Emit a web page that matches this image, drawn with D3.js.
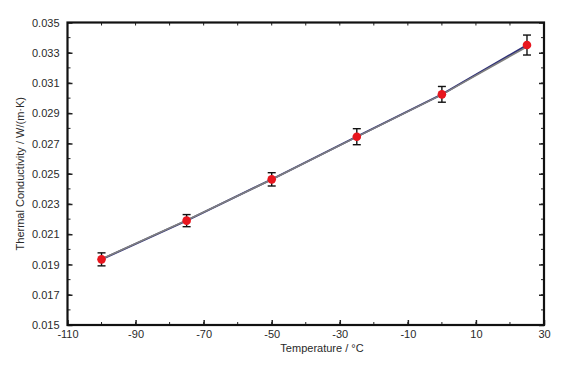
<!DOCTYPE html>
<html><head><meta charset="utf-8">
<script src="https://cdn.jsdelivr.net/npm/d3@7"></script>
<style>body{margin:0;background:#fff}svg{display:block}text{font-family:"Liberation Sans",Arial,sans-serif}</style>
</head><body><svg id="c" width="565" height="365"></svg>
<script>
const temperatures = [-100, -75, -50, -25, 0, 25];
const seriesA = [0.01934, 0.02190, 0.02463, 0.02745, 0.03025, 0.03351];
const seriesB = [0.01936, 0.02192, 0.02462, 0.02744, 0.03023, 0.03340];
const errors = [0.00043, 0.00040, 0.00044, 0.00053, 0.00052, 0.00066];
const xTicks = [-110, -90, -70, -50, -30, -10, 10, 30];
const yTicks = [0.015, 0.017, 0.019, 0.021, 0.023, 0.025, 0.027, 0.029, 0.031, 0.033, 0.035];

const svg = d3.select("#c");
const L = 67.5, R = 544, T = 22.5, B = 325;
const x = d3.scaleLinear().domain([-110, 30]).range([L, R]);
const y = d3.scaleLinear().domain([0.015, 0.035]).range([B, T]);

const xMinor = d3.range(-110, 31, 10);
const yMinor = d3.range(15, 36, 1).map(d => d / 1000);

const g = svg.append("g");
g.selectAll(".xm").data(xMinor).join("line")
  .attr("x1", d => x(d)).attr("x2", d => x(d)).attr("y1", B).attr("y2", B - 3).attr("stroke", "#222");
g.selectAll(".xmt").data(xMinor).join("line")
  .attr("x1", d => x(d)).attr("x2", d => x(d)).attr("y1", T).attr("y2", T + 3).attr("stroke", "#222");
g.selectAll(".ym").data(yMinor).join("line")
  .attr("x1", L).attr("x2", L + 3).attr("y1", d => y(d)).attr("y2", d => y(d)).attr("stroke", "#222");
g.selectAll(".ymr").data(yMinor).join("line")
  .attr("x1", R).attr("x2", R - 3).attr("y1", d => y(d)).attr("y2", d => y(d)).attr("stroke", "#222");

const xAxis = d3.axisBottom(x).tickValues(xTicks).tickSize(-5).tickPadding(5).tickFormat(d => String(d));
const gx = svg.append("g").attr("transform", `translate(0,${B})`).call(xAxis);
gx.select(".domain").remove();
gx.selectAll("line").attr("stroke", "#222").attr("stroke-width", 1.5);
gx.selectAll("text").attr("font-size", 11).attr("fill", "#2a2a2a");

const yAxis = d3.axisLeft(y).tickValues(yTicks).tickSize(-5).tickPadding(8).tickFormat(d3.format(".3f"));
const gy = svg.append("g").attr("transform", `translate(${L},0)`).call(yAxis);
gy.select(".domain").remove();
gy.selectAll("line").attr("stroke", "#222").attr("stroke-width", 1.5);
gy.selectAll("text").attr("font-size", 11).attr("fill", "#2a2a2a");

const yAxisR = d3.axisRight(y).tickValues(yTicks).tickSize(-5).tickFormat("");
const gyr = svg.append("g").attr("transform", `translate(${R},0)`).call(yAxisR);
gyr.select(".domain").remove();
gyr.selectAll("line").attr("stroke", "#222").attr("stroke-width", 1.5);

svg.append("rect").attr("x", L).attr("y", T).attr("width", R - L).attr("height", B - T)
  .attr("fill", "none").attr("stroke", "#111").attr("stroke-width", 2.2);

const line = d3.line().x((d, i) => x(temperatures[i])).y(d => y(d));
svg.append("path").datum(seriesA).attr("d", line).attr("fill", "none").attr("stroke", "#2e2f78").attr("stroke-width", 2);
svg.append("path").datum(seriesB).attr("d", line).attr("fill", "none").attr("stroke", "#808080").attr("stroke-width", 1.6);

const eb = svg.append("g").attr("stroke", "#111").attr("stroke-width", 1.4);
temperatures.forEach((t, i) => {
  const cx = x(t), v = seriesA[i], e = errors[i];
  eb.append("line").attr("x1", cx).attr("x2", cx).attr("y1", y(v - e)).attr("y2", y(v + e));
  eb.append("line").attr("x1", cx - 4).attr("x2", cx + 4).attr("y1", y(v - e)).attr("y2", y(v - e));
  eb.append("line").attr("x1", cx - 4).attr("x2", cx + 4).attr("y1", y(v + e)).attr("y2", y(v + e));
});

svg.append("g").selectAll("circle").data(seriesA).join("circle")
  .attr("cx", (d, i) => x(temperatures[i])).attr("cy", d => y(d)).attr("r", 4.3)
  .attr("fill", "#e8161e");

svg.append("text").attr("x", 322).attr("y", 352).attr("text-anchor", "middle")
  .attr("font-size", 11).attr("fill", "#2a2a2a").text("Temperature / °C");
svg.append("text").attr("transform", `translate(24,${(T + B) / 2}) rotate(-90)`).attr("text-anchor", "middle")
  .attr("font-size", 11).attr("fill", "#2a2a2a").text("Thermal Conductivity / W/(m·K)");
</script></body></html>
